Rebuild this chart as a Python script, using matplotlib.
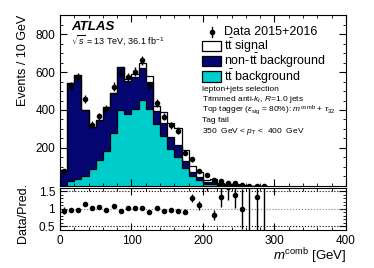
import numpy as np
import matplotlib.pyplot as plt
from matplotlib.patches import Rectangle
from matplotlib.ticker import MultipleLocator

plt.rcParams['font.family'] = ['Liberation Sans', 'DejaVu Sans']
plt.rcParams['mathtext.fontset'] = 'custom'
plt.rcParams['mathtext.rm'] = 'Liberation Sans'
plt.rcParams['mathtext.it'] = 'Liberation Sans:italic'
plt.rcParams['mathtext.bf'] = 'Liberation Sans:bold'

# m^comb bins, 10 GeV wide starting at 0
tt_bkg = [2, 25, 35, 50, 90, 137, 186, 280, 400, 378, 404, 455, 404, 326, 262,
          195, 155, 95, 55, 30, 13, 9, 5, 3, 2, 1, 0.2, 0.5, 0.2]
non_tt = [83, 517, 550, 350, 223, 212, 230, 209, 227, 175, 171, 166, 143, 71, 71,
          64, 63, 35, 20, 15, 7, 13, 7, 5, 5, 1, 0.1, 0.5, 0.1]
signal = [0, 0, 0, 0, 0, 0, 0, 0, 0, 9, 14, 27, 31, 26, 58,
          71, 88, 59, 32, 27, 13, 13, 6, 3, 3, 1, 0.2, 0.5, 0.2]
data = [81, 526, 573, 456, 322, 366, 404, 523, 596, 573, 601, 661, 526, 436, 364,
        320, 291, 174, 140, 79, 57, 29, 24, 18, 14, 3, 1, 2, 1]

tt_bkg = np.array(tt_bkg, dtype=float)
non_tt = np.array(non_tt, dtype=float)
signal = np.array(signal, dtype=float)
data = np.array(data, dtype=float)
edges = np.arange(0, 10 * (len(data) + 1), 10)
centers = 0.5 * (edges[:-1] + edges[1:])

lvl1 = tt_bkg
lvl2 = lvl1 + non_tt
lvl3 = lvl2 + signal

fig = plt.figure(figsize=(3.74, 2.68), dpi=100)
ax = fig.add_axes([0.1604, 0.306, 0.7647, 0.638])
rax = fig.add_axes([0.1604, 0.142, 0.7647, 0.157])

navy = '#050572'
cyan = '#00cccc'
ax.stairs(lvl1, edges, baseline=0, fill=True, facecolor=cyan, edgecolor='none')
ax.stairs(lvl2, edges, baseline=lvl1, fill=True, facecolor=navy, edgecolor='none')
ax.stairs(lvl3, edges, baseline=lvl2, fill=True, facecolor='white', edgecolor='none')
for lv in (lvl1, lvl2, lvl3):
    ax.stairs(lv, edges, baseline=None, color='black', lw=0.9)

err = np.sqrt(data)
ax.errorbar(centers, data, yerr=err, fmt='o', color='black', ms=3, elinewidth=1, capsize=0)

ax.set_xlim(0, 400)
ax.set_ylim(0, 900)
ax.yaxis.set_minor_locator(MultipleLocator(50))
ax.set_yticks([200, 400, 600, 800])
ax.set_ylabel('Events / 10 GeV', fontsize=9, ha='right')
ax.yaxis.set_label_coords(-0.107, 1.0)
ax.tick_params(labelbottom=False)

for a in (ax, rax):
    a.xaxis.set_major_locator(MultipleLocator(100))
    a.xaxis.set_minor_locator(MultipleLocator(20))
    a.tick_params(which='both', direction='in', top=True, right=True, labelsize=8.5)
    a.tick_params(which='major', length=5)
    a.tick_params(which='minor', length=2.5)

# ratio panel
ratio = data / lvl3
rerr = err / lvl3
rax.axhline(1.5, color='black', ls=':', lw=0.8)
rax.axhline(1.0, color='grey', ls=':', lw=0.8)
rax.axhline(0.5, color='black', ls=':', lw=0.8)
rax.errorbar(centers, ratio, yerr=rerr, fmt='o', color='black', ms=3, elinewidth=1, capsize=0)
rax.set_xlim(0, 400)
rax.set_ylim(0.4, 1.6)
rax.set_yticks([0.5, 1, 1.5])
rax.set_yticklabels(['0.5', '1', '1.5'])
rax.yaxis.set_minor_locator(MultipleLocator(0.1))
rax.set_ylabel('Data/Pred.', fontsize=9, ha='right')
rax.yaxis.set_label_coords(-0.107, 1.12)
rax.set_xlabel(r'$m^{\rm comb}$ [GeV]', fontsize=9.5, ha='right', va='center')
rax.xaxis.set_label_coords(1.0, -0.62)

# labels
ax.text(0.04, 0.93, 'ATLAS', transform=ax.transAxes, fontsize=9.5, fontweight='bold',
        style='italic', va='center')
ax.text(0.04, 0.855, r'$\sqrt{s}$ = 13 TeV, 36.1 fb$^{-1}$', transform=ax.transAxes,
        fontsize=6.5, va='center')

# legend drawn by hand so the rows sit as in the original
leg_y = [0.902, 0.820, 0.731, 0.640]
leg_text = ['Data 2015+2016', r'$\mathrm{t\bar{t}}$ signal', r'non-$\mathrm{t\bar{t}}$ background',
            r'$\mathrm{t\bar{t}}$ background']
leg_fill = [None, 'white', navy, cyan]
for y, txt, fc in zip(leg_y, leg_text, leg_fill):
    if fc is None:
        ax.plot([0.53], [y], 'o', color='black', ms=3, transform=ax.transAxes, clip_on=False)
        ax.plot([0.53, 0.53], [y - 0.03, y + 0.03], color='black', lw=1,
                transform=ax.transAxes, clip_on=False)
    else:
        ax.add_patch(Rectangle((0.496, y - 0.03), 0.068, 0.06, facecolor=fc, edgecolor='black',
                               lw=0.9, transform=ax.transAxes, clip_on=False))
    ax.text(0.572, y, txt, transform=ax.transAxes, fontsize=9.0, va='center')

info = ['lepton+jets selection',
        r'Trimmed anti-$k_t$, $R$=1.0 jets',
        r'Top tagger ($\epsilon_{\rm sig}$ = 80%): $m^{\rm comb}$ + $\tau_{32}$',
        'Tag fail',
        r'350  GeV < $p_{\rm T}$ <  400  GeV']
for i, line in enumerate(info):
    ax.text(0.495, 0.565 - i * 0.061, line, transform=ax.transAxes, fontsize=6.0, va='center')

fig.savefig('out.png', dpi=100)
